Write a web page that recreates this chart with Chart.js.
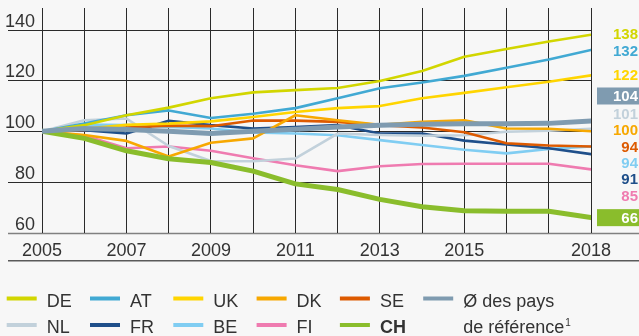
<!DOCTYPE html>
<html>
<head>
<meta charset="utf-8">
<script src="https://cdn.jsdelivr.net/npm/chart.js@4/dist/chart.umd.min.js"></script>
<style>
html, body { margin:0; padding:0; background:#f7f7f7; font-family:"Liberation Sans", sans-serif; }
#wrap { width:639px; height:336px; }
</style>
</head>
<body>
<div id="wrap"><canvas id="indexChart" width="639" height="336"></canvas></div>
<script>

const years = [2005,2006,2007,2008,2009,2010,2011,2012,2013,2014,2015,2016,2017,2018];
const yearLabels = [2005,2007,2009,2011,2013,2015,2018];
const yTicks = [60,80,100,120,140];

const deValues  = [100,102.4,106.3,109.3,113.0,115.3,116.2,117.0,119.8,123.7,129.3,132.4,135.3,138];
const atValues  = [100,103.0,106.3,108.2,105.2,106.9,109.1,113.0,116.9,119.2,121.8,125.0,128.2,132];
const ukValues  = [100,101.0,102.5,103.0,103.9,105.6,107.6,109.1,109.9,113.0,115.1,117.3,119.5,122];
const dkValues  = [100,98.5,96.2,90.1,95.5,97.2,106.3,104.3,102.5,103.7,104.3,101.1,101.0,100];
const seValues  = [100,100.5,101.5,102.2,102.0,104.2,104.2,103.7,102.4,101.5,99.6,95.3,94.4,94];
const avgValues = [100,101.1,100.7,100.0,99.1,100.0,100.8,101.7,102.4,102.8,103.0,103.0,103.1,104];
const nlValues  = [100,104.3,105.0,94.2,88.3,88.2,89.3,99.1,98.5,98.2,98.4,99.8,100.2,101];
const frValues  = [100,100.4,99.1,104.1,102.4,101.1,101.7,102.4,99.1,99.1,96.3,94.8,93.3,91];
const beValues  = [100,102.6,102.4,101.7,101.1,99.5,99.1,98.4,96.5,94.6,92.7,91.3,93.0,94];
const fiValues  = [100,98.3,93.3,94.0,92.3,89.4,86.6,84.3,86.2,87.1,87.2,87.2,87.2,85];
const chValues  = [100,97.2,92.3,89.2,87.7,84.3,79.3,77.1,73.2,70.3,68.7,68.5,68.5,66];

const seriesNames = ["DE","AT","UK","DK","SE","Ø des pays","NL","FR","BE","FI","CH"];
const seriesValues = [deValues,atValues,ukValues,dkValues,seValues,avgValues,nlValues,frValues,beValues,fiValues,chValues];
const seriesColors = ["#d2d600","#41a9d3","#ffd500","#f7a800","#dd5a00","#7f9bb0","#c2d1db","#1f4f8a","#80cdf2","#ef7bb0","#8abd2c"];
const seriesWidths = [2.6,2.6,2.6,2.6,2.6,5,2.6,2.6,2.6,2.6,5];
const boxedSeries = ["Ø des pays","CH"];

const font = '"Liberation Sans", sans-serif';
const textColor = "#333";
const gridColor = "#2a2a2a";

Chart.defaults.font.family = font;

const datasets = seriesNames.map((name,i)=>({
    label:name,
    data:years.map((y,j)=>({x:y, y:seriesValues[i][j]})),
    borderColor:seriesColors[i],
    backgroundColor:seriesColors[i],
    borderWidth:seriesWidths[i],
    pointRadius:0,
    tension:0,
    borderJoinStyle:"round",
    borderCapStyle:"round",
    order: name==="Ø des pays" ? 0 : (name==="CH" ? 1 : 2+i)
}));

// spread end labels so they don't overlap, each cluster sits on its median
function settle(g){
    let off = 0;
    const tops = [];
    g.items.forEach(it=>{
        tops.push(it.want-(off+it.h/2));
        off += it.h;
    });
    tops.sort((a,b)=>a-b);
    const m = Math.floor(tops.length/2);
    g.size = off;
    g.top = tops.length%2 ? tops[m] : (tops[m-1]+tops[m])/2;
}

function spreadLabels(items){
    items.sort((a,b)=>a.want-b.want);
    const groups = [];
    items.forEach(it=>{
        groups.push({items:[it]});
        settle(groups[groups.length-1]);
        while(groups.length>1){
            const g = groups[groups.length-1];
            const p = groups[groups.length-2];
            if(p.top+p.size <= g.top) break;
            p.items = p.items.concat(g.items);
            groups.pop();
            settle(p);
        }
    });
    groups.forEach(g=>{
        let y = g.top;
        g.items.forEach(it=>{ it.y = y+it.h/2; y += it.h; });
    });
    return items;
}

const frame = {
    id:"frame",
    beforeDraw(chart){
        const ctx = chart.ctx;
        const area = chart.chartArea;
        const yScale = chart.scales.y;
        ctx.save();
        ctx.fillStyle = "#f7f7f7";
        ctx.fillRect(0,0,chart.width,chart.height);

        // horizontal grid reaches out under the tick labels
        yTicks.forEach(v=>{
            const py = Math.round(yScale.getPixelForValue(v))+0.5;
            ctx.beginPath();
            if(v===yTicks[0]){
                ctx.strokeStyle = "#808080";
                ctx.lineWidth = 1.5;
                ctx.moveTo(8,py);
                ctx.lineTo(chart.width,py);
            } else {
                ctx.strokeStyle = gridColor;
                ctx.lineWidth = 1;
                ctx.moveTo(8,py);
                ctx.lineTo(area.right,py);
            }
            ctx.stroke();

            ctx.fillStyle = textColor;
            ctx.font = "18px "+font;
            ctx.textAlign = "right";
            ctx.textBaseline = "alphabetic";
            ctx.fillText(String(v),35,py-4);
        });

        ctx.strokeStyle = "#5a5a5a";
        ctx.lineWidth = 1.5;
        ctx.beginPath();
        ctx.moveTo(8,260.75);
        ctx.lineTo(chart.width,260.75);
        ctx.stroke();
        ctx.restore();
    },
    afterDraw(chart){
        const ctx = chart.ctx;
        const yScale = chart.scales.y;
        ctx.save();

        // end values on the right
        const items = seriesNames.map((name,i)=>{
            const last = seriesValues[i][seriesValues[i].length-1];
            const boxed = boxedSeries.includes(name);
            return {
                text:String(Math.round(last)),
                color:seriesColors[i],
                boxed,
                h: boxed ? 19.5 : 16.3,
                want:yScale.getPixelForValue(last)
            };
        });
        spreadLabels(items);
        ctx.font = "bold 15px "+font;
        ctx.textAlign = "right";
        ctx.textBaseline = "middle";
        items.forEach(it=>{
            if(it.boxed){
                ctx.fillStyle = it.color;
                ctx.fillRect(597,it.y-8.5,chart.width-597,17);
                ctx.fillStyle = "#ffffff";
            } else {
                ctx.fillStyle = it.color;
            }
            ctx.fillText(it.text,638,it.y+1);
        });

        // legend: two rows, six columns
        const rowY = [298.5,325];
        ctx.textAlign = "left";
        ctx.textBaseline = "alphabetic";
        seriesNames.forEach((name,i)=>{
            const col = i%6;
            const row = Math.floor(i/6);
            const x = 6.7+col*83.3;
            const y = rowY[row];
            ctx.fillStyle = seriesColors[i];
            ctx.fillRect(x,y-2,30,4);
            ctx.fillStyle = textColor;
            ctx.font = (name==="CH" ? "bold " : "")+"18px "+font;
            ctx.fillText(name,x+40,y+8.3);
            if(name==="Ø des pays"){
                ctx.font = "18px "+font;
                const second = "de référence";
                ctx.fillText(second,x+40,rowY[1]+8.3);
                const w = ctx.measureText(second).width;
                ctx.font = "10px "+font;
                ctx.fillText("1",x+41+w,rowY[1]+1);
            }
        });
        ctx.restore();
    }
};

new Chart(document.getElementById("indexChart"),{
    type:"line",
    data:{ datasets },
    options:{
        responsive:false,
        animation:false,
        devicePixelRatio:1,
        layout:{ padding:{ left:42, right:48, top:8, bottom:67.5 } },
        plugins:{ legend:{ display:false }, tooltip:{ enabled:false } },
        scales:{
            x:{
                type:"linear",
                min:2005,
                max:2018,
                border:{ display:false },
                grid:{ color:gridColor, lineWidth:1, drawTicks:false },
                ticks:{
                    stepSize:1,
                    autoSkip:false,
                    maxRotation:0,
                    padding:7,
                    color:textColor,
                    font:{ family:font, size:18 },
                    callback:v=>yearLabels.includes(v) ? String(v) : ""
                }
            },
            y:{
                display:false,
                min:60,
                max:148.5
            }
        }
    },
    plugins:[frame]
});
</script>
</body>
</html>
